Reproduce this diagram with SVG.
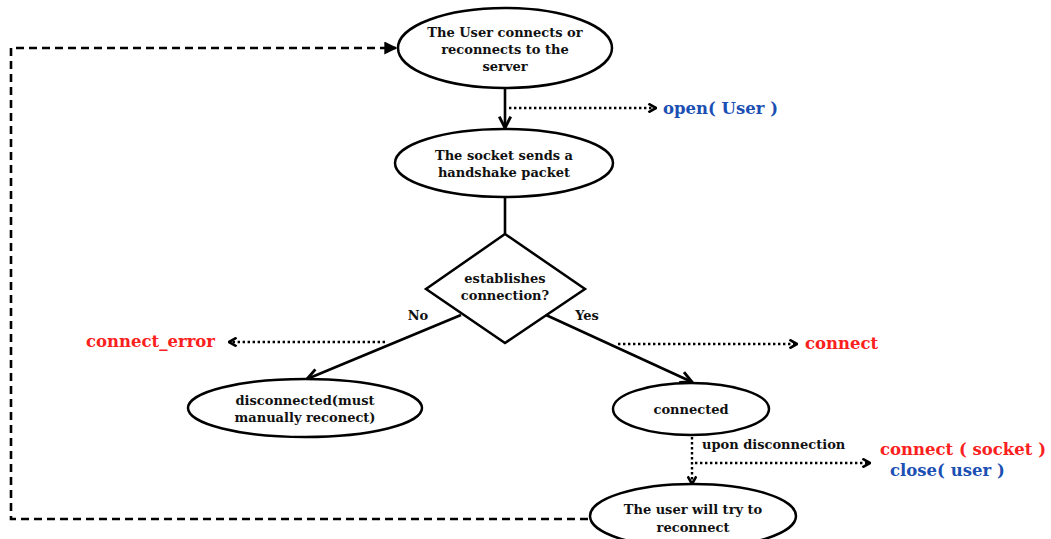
<svg xmlns="http://www.w3.org/2000/svg" width="1051" height="539" viewBox="0 0 1051 539">
<style>
.node{fill:#fff;stroke:#000;stroke-width:2.5}
.t{font-family:"DejaVu Serif","Liberation Serif",serif;font-weight:bold;font-size:13px;fill:#111;text-anchor:middle}
.lbl{font-family:"DejaVu Serif","Liberation Serif",serif;font-weight:bold;font-size:16.5px}
.red{fill:#fb2020}
.blue{fill:#1b4fb3}
.solid{fill:none;stroke:#000;stroke-width:2.6}
.dot{fill:none;stroke:#000;stroke-width:2.4;stroke-dasharray:2.4 2.6}
.dash{fill:none;stroke:#000;stroke-width:2.6;stroke-dasharray:8 5}
</style>
<defs>
<marker id="v" viewBox="0 0 10 10" refX="9" refY="5" markerWidth="5.5" markerHeight="5.5" orient="auto" markerUnits="strokeWidth">
<path d="M1,1 L9,5 L1,9" fill="none" stroke="#000" stroke-width="2"/>
</marker>
<marker id="c" viewBox="0 0 10 10" refX="9" refY="5" markerWidth="4.5" markerHeight="4.5" orient="auto" markerUnits="strokeWidth">
<path d="M2,1 L9,5 L2,9" fill="none" stroke="#000" stroke-width="2.4"/>
</marker>
<marker id="tri" viewBox="0 0 10 10" refX="9" refY="5" markerWidth="5" markerHeight="5" orient="auto" markerUnits="strokeWidth">
<path d="M0,0 L10,5 L0,10 Z" fill="#000"/>
</marker>
</defs>
<g id="connectors">
<path class="solid" d="M505,88 L505,128" marker-end="url(#v)"/>
<path class="dot" d="M509,108 L656,108" marker-end="url(#c)"/>
<path class="solid" d="M505,197 L505,234"/>
<path class="solid" d="M461,315 L307,379" marker-end="url(#v)"/>
<path class="dot" d="M385,342 L229,342" marker-end="url(#c)"/>
<path class="solid" d="M546,315 L692,382" marker-end="url(#v)"/>
<path class="dot" d="M618,344 L797,344" marker-end="url(#c)"/>
<path class="dot" d="M692,437 L692,484" marker-end="url(#c)"/>
<path class="dot" d="M695,463 L870,463" marker-end="url(#c)"/>
<path class="dash" d="M588,519 L11,519 L11,48 L396,48" marker-end="url(#tri)"/>
<text class="t" x="418" y="320">No</text>
<text class="t" x="587" y="320">Yes</text>
<text class="t" x="702" y="449" style="text-anchor:start">upon disconnection</text>
</g>
<g id="n1">
<ellipse class="node" cx="505" cy="48" rx="107" ry="40"/>
<text class="t" x="505" y="37">The User connects or</text>
<text class="t" x="505" y="54">reconnects to the</text>
<text class="t" x="505" y="71">server</text>
</g>
<g id="n2">
<ellipse class="node" cx="504" cy="163" rx="109" ry="34"/>
<text class="t" x="504" y="160">The socket sends a</text>
<text class="t" x="504" y="177">handshake packet</text>
</g>
<g id="n3">
<path class="node" d="M505,234 L585,289 L505,343 L426,289 Z"/>
<text class="t" x="505" y="283">establishes</text>
<text class="t" x="505" y="300">connection?</text>
</g>
<g id="n4">
<ellipse class="node" cx="305" cy="408" rx="117" ry="29"/>
<text class="t" x="305" y="405">disconnected(must</text>
<text class="t" x="305" y="422">manually reconect)</text>
</g>
<g id="n5">
<ellipse class="node" cx="691" cy="409" rx="78" ry="26"/>
<text class="t" x="691" y="414">connected</text>
</g>
<g id="n6">
<ellipse class="node" cx="693" cy="516" rx="103" ry="32"/>
<text class="t" x="693" y="514">The user will try to</text>
<text class="t" x="693" y="532">reconnect</text>
</g>
<g id="labels">
<text class="lbl blue" x="663" y="114">open( User )</text>
<text class="lbl red" x="86" y="347">connect_error</text>
<text class="lbl red" x="805" y="349">connect</text>
<text class="lbl red" x="880" y="455">connect ( socket )</text>
<text class="lbl blue" x="890" y="476">close( user )</text>
</g>
</svg>
